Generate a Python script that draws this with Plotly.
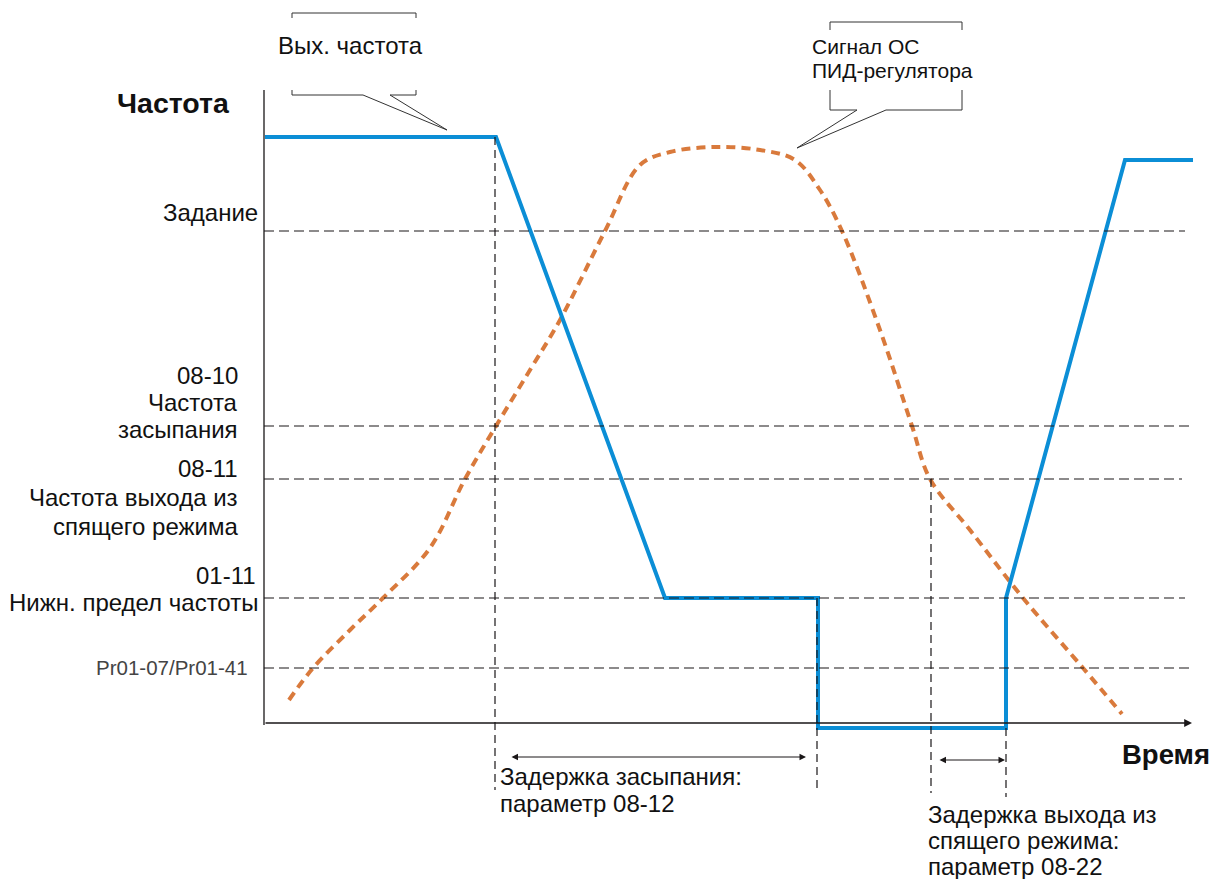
import plotly.graph_objects as go

# time / frequency in chart units (origin at the axes corner)
LEVEL_NAMES = ["Задание", "08-10", "08-11", "01-11", "Pr01-07/Pr01-41"]
LEVEL_F = [492, 297, 244, 125, 55]
LEVEL_END = [921, 926, 918, 921, 926]

OUT_T = [1, 232, 401, 554, 554, 742, 742, 861, 929]
OUT_F = [586, 586, 125, 125, -5, -5, 125, 563, 563]

PID_T = [25, 49, 86, 119, 166, 201, 232, 266, 296, 341, 376, 406, 451, 496,
         531, 556, 578, 616, 648, 666, 706, 759, 819, 858]
PID_F = [23, 55, 93, 125, 175, 244, 297, 353, 403, 492, 558, 571, 576, 573,
         563, 533, 492, 393, 297, 244, 193, 125, 55, 9]

MARK_T = [231, 553, 667, 742]
MARK_TOP = [586, 125, 244, -5]
MARK_BOT = [-67, -69, -70, -74]

BLUE = "#0b8ed6"
ORANGE = "#d97a3c"
INK = "#1a1718"
FONT = "Liberation Sans, Arial, sans-serif"

fig = go.Figure()

# reference levels
for f, end in zip(LEVEL_F, LEVEL_END):
    fig.add_shape(type="line", x0=0, x1=end, y0=f, y1=f,
                  line={"color": INK, "width": 1.2, "dash": "10px,5px"})

# time markers
for t, top, bot in zip(MARK_T, MARK_TOP, MARK_BOT):
    fig.add_shape(type="line", x0=t, x1=t, y0=top, y1=bot,
                  line={"color": INK, "width": 1.2, "dash": "8px,5px"})

# axes
fig.add_shape(type="line", x0=0, x1=0, y0=-2, y1=633, line={"color": INK, "width": 1.3})
fig.add_annotation(x=928, y=0, ax=0, ay=0, axref="x", ayref="y", xref="x", yref="y",
                   text="", showarrow=True, arrowhead=2, arrowsize=1.2, arrowwidth=1.3,
                   arrowcolor=INK)

# PID feedback signal
fig.add_trace(go.Scatter(x=PID_T, y=PID_F, mode="lines", line_shape="spline",
                         line={"color": ORANGE, "width": 4, "dash": "9px,6px"},
                         hoverinfo="skip"))
# output frequency
fig.add_trace(go.Scatter(x=OUT_T, y=OUT_F, mode="lines",
                         line={"color": BLUE, "width": 4}, hoverinfo="skip"))

# callout brackets
callouts = [
    ([28, 28, 152, 152], [705, 710, 710, 705]),
    ([28, 28, 99, 183, 126, 152, 152], [633, 628, 628, 593, 628, 628, 633]),
    ([566, 566, 698, 698], [693, 701, 701, 693]),
    ([566, 566, 593, 533, 622, 698, 698], [633, 613, 613, 575, 613, 613, 633]),
]
for xs, ys in callouts:
    fig.add_trace(go.Scatter(x=xs, y=ys, mode="lines", line={"color": "#333333", "width": 1},
                             hoverinfo="skip"))

# delay arrows
for t0, t1, f in [(246, 542, -34), (674, 741, -37)]:
    fig.add_annotation(x=t1, y=f, ax=t0, ay=f, axref="x", ayref="y", xref="x", yref="y",
                       text="", showarrow=True, arrowhead=2, arrowside="end+start",
                       arrowsize=1.3, arrowwidth=1, arrowcolor=INK)


def label(t, f, text, size=24, anchor="right", bold=False, color="#111111"):
    if bold:
        text = "<b>" + text + "</b>"
    fig.add_annotation(x=t, y=f, text=text, showarrow=False, xanchor=anchor, yanchor="middle",
                       font={"size": size, "color": color, "family": FONT})


label(-32, 620, "Частота", size=28.5, bold=True)
label(948, -31, "Время", size=27.5, bold=True)
label(86, 678, "Вых. частота", anchor="center")
label(546, 677, "Сигнал ОС", size=21, anchor="left")
label(546, 653, "ПИД-регулятора", size=21, anchor="left")

label(-4, LEVEL_F[0] + 19, LEVEL_NAMES[0])
label(-24, LEVEL_F[1] + 51, LEVEL_NAMES[1])
label(-24, LEVEL_F[1] + 24, "Частота")
label(-24, LEVEL_F[1] - 3, "засыпания")
label(-24, LEVEL_F[2] + 11, LEVEL_NAMES[2])
label(-24, LEVEL_F[2] - 18, "Частота выхода из")
label(-24, LEVEL_F[2] - 47, "спящего режима")
label(-6, LEVEL_F[3] + 23, LEVEL_NAMES[3])
label(-4, LEVEL_F[3] - 4, "Нижн. предел частоты")
label(-14, LEVEL_F[4] + 1, LEVEL_NAMES[4], size=20.5, color="#444444")

label(234, -53, "Задержка засыпания:", anchor="left")
label(234, -80, "параметр 08-12", anchor="left")
label(662, -91, "Задержка выхода из", anchor="left")
label(662, -117, "спящего режима:", anchor="left")
label(662, -143, "параметр 08-22", anchor="left")

# the page body adds an 8px margin, so the figure is sized to the remaining window
fig.update_layout(
    width=1214,
    height=871,
    showlegend=False,
    paper_bgcolor="#ffffff",
    plot_bgcolor="#ffffff",
    margin={"l": 0, "r": 0, "t": 0, "b": 0},
    font={"family": FONT, "color": "#111111"},
    xaxis={"range": [-256, 958], "visible": False, "fixedrange": True},
    yaxis={"range": [-156, 715], "visible": False, "fixedrange": True},
)

fig.write_html("out.html")
